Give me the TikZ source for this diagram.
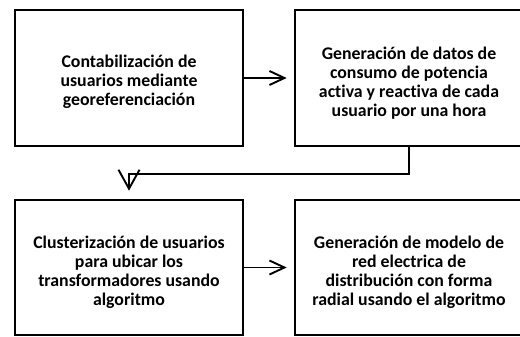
\documentclass[tikz,border=0pt]{standalone}
\usepackage{fontspec}
\setmainfont{Carlito}[Ligatures=NoCommon]
\usetikzlibrary{arrows.meta}
\begin{document}
\begin{tikzpicture}[x=1bp,y=1bp,
  stepbox/.style={draw=black,line width=2.6bp,minimum width=228bp,minimum height=136bp,inner sep=0pt},
  boxtext/.style={align=center,font=\fontsize{17.8bp}{19bp}\selectfont\bfseries,inner sep=0pt},
  link/.style={draw=black,line width=1.9bp,-{Straight Barb[length=15bp,width=14bp,line width=1.9bp]}}]
\clip (0,0) rectangle (520,336);
\node[stepbox] (b1) at (129,258) {};
\node[stepbox] (b2) at (409,258) {};
\node[stepbox,minimum height=135bp] (b3) at (129,68.5) {};
\node[stepbox,minimum height=135bp] (b4) at (409,68.5) {};
\node[boxtext] (t1) at ([yshift=-4bp]b1.center) {Contabilización de\\usuarios mediante\\georeferenciación};
\node[boxtext] (t2) at ([yshift=-5bp]b2.center) {Generación de datos de\\consumo de potencia\\activa y reactiva de cada\\usuario por una hora};
\node[boxtext] (t3) at ([yshift=-5bp]b3.center) {Clusterización de usuarios\\para ubicar los\\transformadores usando\\algoritmo};
\node[boxtext] (t4) at ([yshift=-5bp]b4.center) {Generación de modelo de\\red electrica de\\distribución con forma\\radial usando el algoritmo};
\draw[link,shorten >=7bp] (b1.east) -- (b2.west);
\draw[link,shorten >=7bp] (b3.east) -- (b4.west);
\draw[draw=black,line width=1.9bp,-{Straight Barb[length=19bp,width=21bp,line width=1.9bp]},shorten >=8bp] (b2.south) -- ++(0,-27) -| (b3.north);
\end{tikzpicture}
\end{document}
